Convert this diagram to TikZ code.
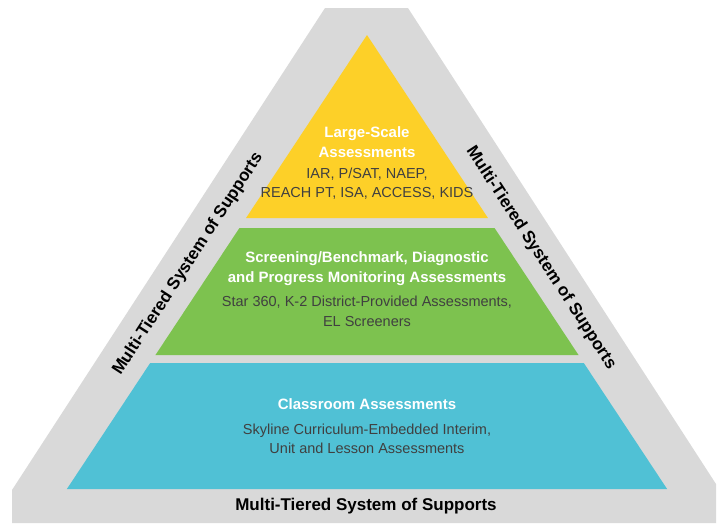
\documentclass[tikz,border=0pt]{standalone}
\usepackage{fontspec}
\setmainfont{Liberation Sans}
\usetikzlibrary{positioning}
\definecolor{bandgray}{HTML}{D9D9D9}
\definecolor{tieryellow}{HTML}{FDD028}
\definecolor{tiergreen}{HTML}{7DC24F}
\definecolor{tierblue}{HTML}{50C1D5}
\definecolor{bodygray}{HTML}{404040}
\tikzstyle{tiertitle}=[text=white, font=\fontsize{15}{20}\selectfont\bfseries, align=center, inner sep=0]
\tikzstyle{tierbody}=[text=bodygray, font=\fontsize{14.5}{19.5}\selectfont, align=center, inner sep=0]
\tikzstyle{sidelabel}=[text=black, font=\fontsize{17}{20}\selectfont\bfseries, inner sep=0]
% one slice of the pyramid, between heights #2 and #3
\newcommand{\tier}[3]{\fill[#1] ({367-0.661*(#2-35)},#2) -- ({367+0.661*(#2-35)},#2) -- ({367+0.661*(#3-35)},#3) -- ({367-0.661*(#3-35)},#3) -- cycle;}

\begin{document}
\begin{tikzpicture}[x=1pt,y=-1pt]
\useasboundingbox (0,0) rectangle (724,523);
\fill[bandgray] (325,8) -- (408,8) -- (716,484) -- (716,523) -- (12,523) -- (12,490) -- cycle;

\tier{tieryellow}{35}{218}
\tier{tiergreen}{228}{355}
\tier{tierblue}{363}{489}

\node[tiertitle] (ytitle) at (367,142) {Large-Scale\\Assessments};
\node[tierbody, below=10pt of ytitle] (ybody) {IAR, P/SAT, NAEP,\\REACH PT, ISA, ACCESS, KIDS};

\node[tiertitle] (gtitle) at (367,269) {Screening/Benchmark, Diagnostic\\and Progress Monitoring Assessments};
\node[tierbody, below=10pt of gtitle] (gbody) {Star 360, K-2 District-Provided Assessments,\\EL Screeners};

\node[tiertitle] (btitle) at (367,404) {Classroom Assessments};
\node[tierbody, below=14pt of btitle] (bbody) {Skyline Curriculum-Embedded Interim,\\Unit and Lesson Assessments};

\node[sidelabel, rotate=57] (lside) at (188,264) {Multi-Tiered System of Supports};
\node[sidelabel, rotate=-57] (rside) at (541,258) {Multi-Tiered System of Supports};
\node[sidelabel] (bside) at (366,506) {Multi-Tiered System of Supports};
\end{tikzpicture}
\end{document}
